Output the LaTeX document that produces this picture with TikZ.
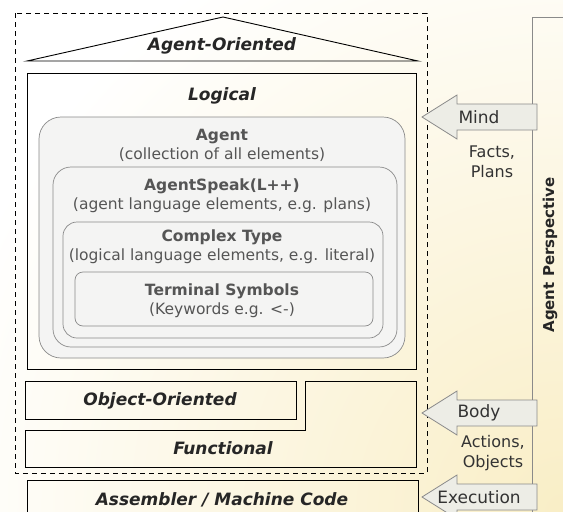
\documentclass[tikz,border=0pt]{standalone}
\usepackage{fontspec}
\setmainfont{DejaVu Sans}
\definecolor{bgyellow}{HTML}{F9EEC6}
\definecolor{boxgray}{HTML}{F4F4F3}
\definecolor{txtgray}{HTML}{555555}
\definecolor{linegray}{HTML}{8A8A8A}
\definecolor{arrowfill}{HTML}{EDEDE6}
\tikzset{
  layer/.style={draw=black, line width=.9pt},
  layertext/.style={font=\fontsize{17}{19}\selectfont\bfseries\itshape, text=black!85},
  level/.style={draw=linegray, line width=.7pt, fill=boxgray},
  leveltext/.style={font=\fontsize{15.5}{19}\selectfont, text=txtgray, align=center, inner sep=0pt},
  arrowbox/.style={draw=linegray, line width=.8pt, fill=arrowfill},
  arrowtext/.style={font=\fontsize{17}{19}\selectfont, text=black!80, inner sep=0pt},
  notetext/.style={font=\fontsize{16}{20}\selectfont, text=black!80, align=center, inner sep=0pt}
}
\begin{document}
\begin{tikzpicture}[x=1pt,y=-1pt]
  \useasboundingbox (0,0) rectangle (563,512);
  \begin{scope}
    \clip (0,0) rectangle (563,512);
    \fill[white] (0,0) rectangle (563,512);
    \shade[inner color=bgyellow, outer color=white] (563,512) circle (640);
  \end{scope}

  % perspective bar
  \draw[linegray, line width=.9pt] (563,17) -- (532,17) -- (532,512);
  \node[rotate=90, font=\fontsize{15}{18}\selectfont\bfseries, text=black!85] (persp) at (550,255) {Agent Perspective};

  % dashed frame
  \draw[dash pattern=on 5pt off 4pt, line width=.8pt] (15,13) rectangle (427,473);

  % roof
  \path (27,61) coordinate (rl) (223,17) coordinate (rt) (418,61) coordinate (rr);
  \draw[layer] (rl) -- (rt) -- (rr) -- cycle;
  \node[layertext] (agentor) at (222,46) {Agent-Oriented};

  % logical
  \draw[layer] (27,73) rectangle (416,369);
  \node[layertext] (logical) at (222,96) {Logical};

  % nested levels
  \draw[level, rounded corners=22pt] (39,117) rectangle (405,358);
  \draw[level, rounded corners=18pt] (53,167) rectangle (397,347);
  \draw[level, rounded corners=14pt] (63,222) rectangle (383,338);
  \draw[level, rounded corners=8pt] (75,272) rectangle (373,326);
  \node[leveltext] (agent) at (222,145) {\textbf{Agent}\\(collection of all elements)};
  \node[leveltext] (speak) at (222,196) {\textbf{AgentSpeak(L++)}\\(agent language elements, e.g. plans)};
  \node[leveltext] (complex) at (222,247) {\textbf{Complex Type}\\(logical language elements, e.g. literal)};
  \node[leveltext] (terminal) at (222,301) {\textbf{Terminal Symbols}\\(Keywords e.g. <-)};

  % object-oriented / functional
  \draw[layer] (25,381) rectangle (296,419);
  \node[layertext] (object) at (160,401) {Object-Oriented};
  \draw[layer] (25,430) -- (305,430) -- (305,381) -- (416,381) -- (416,467) -- (25,467) -- cycle;
  \node[layertext] (functional) at (223,448) {Functional};

  % assembler
  \draw[layer] (27,480) rectangle (418,530);
  \node[layertext] (assembler) at (222,500) {Assembler / Machine Code};

  % arrows
  \foreach \y/\name/\txt in {117/mind/Mind, 413/body/Body, 497/exec/Execution}
  { \draw[arrowbox] (422,\y) -- (457,\y-22) -- (457,\y-13) -- (537,\y-13)
      -- (537,\y+13) -- (457,\y+13) -- (457,\y+22) -- cycle;
    \node[arrowtext] (\name) at (479,\y) {\txt}; }
  \node[notetext] (facts) at (492,162) {Facts,\\Plans};
  \node[notetext] (actions) at (493,453) {Actions,\\Objects};
\end{tikzpicture}
\end{document}
